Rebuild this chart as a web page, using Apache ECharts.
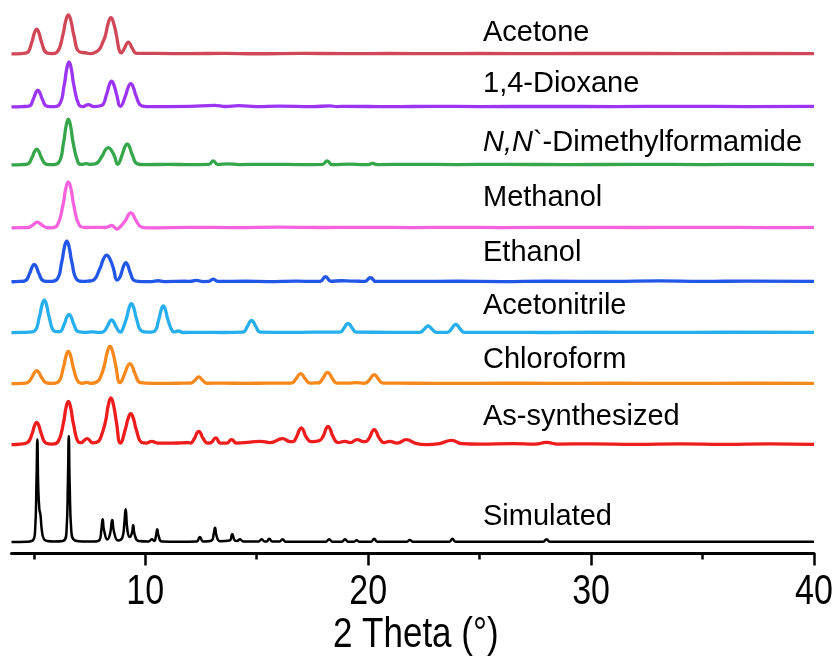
<!DOCTYPE html>
<html>
<head>
<meta charset="utf-8">
<script src="https://cdn.jsdelivr.net/npm/echarts@6/dist/echarts.min.js"></script>
<style>
  html, body { margin: 0; padding: 0; background: #ffffff; }
  #chart { width: 837px; height: 668px; }
</style>
</head>
<body>
<div id="chart"></div>
<script>
// PXRD patterns, [2θ (°), intensity above each trace's own baseline]
const acetone = [[4.0,0],[4.45,0.4],[4.69,1.2],[4.92,12.4],[5.025,20.8],[5.13,24.7],[5.235,20.8],[5.34,12.4],[5.57,1.2],[5.8,0.3],[6.05,2],[6.31,19.5],[6.43,32.8],[6.55,39],[6.67,32.8],[6.79,19.5],[7.05,2],[7.3,1.2],[7.55,0.3],[7.75,1.5],[7.95,5],[8.1,12],[8.21,18.2],[8.335,30.5],[8.46,36.3],[8.585,30.5],[8.71,18.2],[8.83,4],[8.92,1.2],[9.07,5.9],[9.155,9.8],[9.24,11.7],[9.325,9.8],[9.41,5.9],[9.62,0.6],[10.5,0.5],[12,0.3],[13.5,0.6],[15,0.2],[17,0.6],[19,0.3],[21,0.5],[23,0.3],[25,0.5],[28,0.3],[31,0.6],[34,0.3],[37,0.5],[40,0.3]];

const dioxane = [[4.0,0],[4.45,0.3],[4.78,0.8],[4.99,8.4],[5.085,14],[5.18,16.7],[5.275,14],[5.37,8.4],[5.58,0.8],[5.85,0.2],[6.14,2.2],[6.37,22.5],[6.475,37.8],[6.58,45],[6.685,37.8],[6.79,22.5],[7.02,2.2],[7.2,0.3],[7.44,2.3],[7.7,0.3],[8.03,1.3],[8.27,12.8],[8.38,21.6],[8.49,25.7],[8.6,21.6],[8.71,12.8],[8.89,0.5],[9.12,11.6],[9.235,19.6],[9.35,23.3],[9.465,19.6],[9.58,11.6],[9.83,1.1],[10.1,0.2],[12,0.5],[13.1,1.5],[13.6,0.4],[14.2,1.2],[15,0.3],[16,0.8],[17.5,0.3],[18.3,1],[18.6,0.3],[19,0.6],[21,0.2],[23,0.6],[25,0.3],[28,0.5],[31,0.3],[34,0.6],[37,0.3],[40,0.6]];

const dmf = [[4.0,0],[4.45,0.3],[4.71,0.8],[4.93,7.8],[5.03,13.2],[5.13,15.7],[5.23,13.2],[5.33,7.8],[5.55,0.8],[5.8,0.2],[6.11,2.2],[6.34,22.8],[6.445,38.4],[6.55,45.7],[6.655,38.4],[6.76,22.8],[6.99,2.2],[7.15,0.4],[7.35,1.3],[7.55,0.5],[7.75,0.9],[8.06,8.6],[8.2,14.5],[8.34,17.3],[8.48,14.5],[8.62,8.6],[8.76,0.6],[8.97,10.5],[9.08,17.6],[9.19,21],[9.3,17.6],[9.41,10.5],[9.65,1],[9.95,0.2],[11,0.5],[12,0.2],[12.85,0.4],[13.05,4],[13.25,0.3],[13.7,1],[14.2,0.3],[15.5,0.5],[17,0.3],[17.95,0.4],[18.16,4],[18.38,0.3],[19.2,0.8],[19.8,0.3],[20.0,0.3],[20.2,1.5],[20.4,0.3],[22,0.5],[24,0.3],[26,0.5],[29,0.2],[32,0.5],[35,0.3],[38,0.5],[40,0.3]];

const methanol = [[4.0,0],[4.45,0.2],[4.74,0.3],[4.96,2.8],[5.16,5.7],[5.36,2.8],[5.58,0.3],[5.8,0],[6.05,2.3],[6.31,23],[6.43,38.7],[6.55,46],[6.67,38.7],[6.79,23],[7.05,2.3],[7.3,0.3],[7.8,0.5],[8.2,0.3],[8.35,1.2],[8.49,2.3],[8.62,0.5],[8.72,-1.2],[8.85,0.3],[9.12,7.5],[9.235,12.6],[9.35,15],[9.465,12.6],[9.58,7.5],[9.83,0.8],[10.1,0],[12,0.5],[14,0.2],[16,0.6],[18,0.3],[20,0.5],[22,0.2],[24,0.5],[26,0.2],[29,0.5],[32,0.3],[35,0.5],[38,0.2],[40,0.5]];

const ethanol = [[4.0,0],[4.35,0.3],[4.6,0.9],[4.82,8.7],[4.92,14.6],[5.02,17.3],[5.12,14.6],[5.22,8.7],[5.44,0.9],[5.7,0.3],[6.02,2],[6.26,20.4],[6.37,34.2],[6.48,40.7],[6.59,34.2],[6.7,20.4],[6.94,2],[7.2,0.3],[7.4,0.6],[7.64,1.3],[7.97,13.4],[8.12,22.5],[8.27,26.7],[8.42,22.5],[8.57,13.4],[8.74,1.7],[8.85,4],[8.94,9.5],[9.035,16],[9.13,19],[9.225,16],[9.32,9.5],[9.53,1],[9.85,0.2],[10.3,0.2],[10.57,1],[10.85,0.2],[11.8,0.5],[12.0,0.3],[12.3,1.3],[12.6,0.2],[12.85,0.3],[13.05,2.7],[13.25,0.3],[14.5,0.5],[15.5,0.2],[16.8,0.6],[17.6,0.3],[17.85,0.4],[18.09,5],[18.33,0.5],[18.8,1],[19.2,0.7],[19.6,0.5],[19.85,0.3],[20.1,4],[20.35,0.3],[22,0.4],[24,0.5],[26,0.2],[28,0.6],[31,0.3],[33,0.8],[35,0.3],[37,0.7],[40,0.3]];

const acetonitrile = [[4.0,0],[4.5,0.3],[4.8,0.5],[5.03,1.6],[5.26,16.4],[5.365,27.5],[5.47,32.7],[5.575,27.5],[5.68,16.4],[5.91,1.6],[6.05,1],[6.16,1],[6.38,9.2],[6.48,15.4],[6.58,18.3],[6.68,15.4],[6.78,9.2],[7.0,1],[7.3,0.3],[7.6,0.8],[7.9,0.3],[8.09,0.6],[8.3,6.4],[8.395,10.7],[8.49,12.7],[8.585,10.7],[8.68,6.4],[8.89,0.6],[8.95,1.5],[9.16,14.5],[9.27,24.4],[9.38,29],[9.49,24.4],[9.6,14.5],[9.84,1.5],[10.1,0.5],[10.39,1.3],[10.61,13.4],[10.71,22.5],[10.81,26.7],[10.91,22.5],[11.01,13.4],[11.23,1.3],[11.3,0.8],[11.48,1.7],[11.7,0.2],[12.5,0.4],[13.5,0.2],[14.37,0.6],[14.58,6.2],[14.675,10.3],[14.77,12.3],[14.865,10.3],[14.96,6.2],[15.17,0.6],[16.5,0.3],[17.5,0.5],[18.72,0.5],[18.92,4.7],[19.01,7.8],[19.1,9.3],[19.19,7.8],[19.28,4.7],[19.48,0.5],[21,0.4],[22.31,0.3],[22.51,3.4],[22.6,5.6],[22.69,6.7],[22.78,5.6],[22.87,3.4],[23.07,0.3],[23.55,0.4],[23.75,4.2],[23.84,7],[23.93,8.3],[24.02,7],[24.11,4.2],[24.31,0.4],[26,0.4],[28,0.2],[30,0.5],[33,0.3],[36,0.5],[40,0.3]];

const chloroform = [[4.0,0],[4.45,0.3],[4.69,0.7],[4.92,6.5],[5.025,10.9],[5.13,13],[5.235,10.9],[5.34,6.5],[5.57,0.7],[5.82,0.2],[6.09,1.6],[6.33,16.2],[6.44,27.2],[6.55,32.3],[6.66,27.2],[6.77,16.2],[7.01,1.6],[7.2,0.4],[7.35,1.3],[7.55,0.3],[7.84,1.9],[8.0,7],[8.17,18.7],[8.295,31.4],[8.42,37.3],[8.545,31.4],[8.67,18.7],[8.87,1],[9.08,10],[9.195,16.8],[9.31,20],[9.425,16.8],[9.54,10],[9.79,1],[10.3,0.2],[11.5,0.4],[12.04,0.6],[12.23,3.4],[12.4,6.7],[12.57,3.4],[12.76,0.4],[13.5,0.5],[14.5,0.3],[15.5,0.5],[16.55,0.6],[16.77,5],[16.87,8.4],[16.97,10],[17.07,8.4],[17.17,5],[17.39,0.5],[17.6,0.8],[17.76,0.7],[17.98,5.7],[18.08,9.5],[18.18,11.3],[18.28,9.5],[18.38,5.7],[18.6,0.6],[19.1,0.6],[19.48,1],[19.8,0.4],[19.87,0.5],[20.08,4.5],[20.175,7.6],[20.27,9],[20.365,7.6],[20.46,4.5],[20.67,0.5],[22,0.4],[24,0.2],[26,0.5],[28,0.3],[31,0.4],[34,0.2],[37,0.5],[40,0.3]];

const asSynthesized = [[4.0,0],[4.4,0.5],[4.71,2],[4.93,11.2],[5.03,18.8],[5.13,22.3],[5.23,18.8],[5.33,11.2],[5.55,1.5],[5.82,0.5],[6.09,3],[6.33,21.7],[6.44,36.4],[6.55,43.3],[6.66,36.4],[6.77,21.7],[7.01,2.5],[7.12,2],[7.39,6],[7.65,1.7],[7.85,2.5],[8.0,7],[8.22,23.4],[8.34,39.3],[8.46,46.7],[8.58,39.3],[8.7,23.4],[8.89,1.5],[9.11,15.5],[9.23,26],[9.35,31],[9.47,26],[9.59,15.5],[9.85,2],[10.05,1.5],[10.29,3.3],[10.55,1.5],[11.2,1.5],[11.63,1.7],[11.95,2],[12.02,1.5],[12.22,6.7],[12.31,11.2],[12.4,13.3],[12.49,11.2],[12.58,6.7],[12.8,1.5],[12.95,2],[13.16,6.7],[13.38,1.5],[13.65,1.5],[13.87,5],[14.1,1.5],[14.7,2.5],[15.17,3.3],[15.6,2],[16.16,6],[16.5,3],[16.62,3],[16.8,8.4],[16.9,14],[17.0,16.7],[17.1,14],[17.2,8.4],[17.45,3],[17.65,3.3],[17.82,4],[18.0,9.2],[18.1,15.4],[18.2,18.3],[18.3,15.4],[18.4,9.2],[18.65,2],[18.96,3.3],[19.2,2],[19.5,5],[19.8,3],[19.88,3],[20.07,7.5],[20.17,12.6],[20.27,15],[20.37,12.6],[20.47,7.5],[20.72,2],[20.97,3.3],[21.3,1.5],[21.72,5],[22.1,1.5],[22.6,0],[23.2,1],[23.74,4.3],[24.2,1],[25,0.5],[26.5,1],[27.5,0.5],[28,2.3],[28.5,0.5],[30,0.8],[32,0.3],[34,0.8],[36,0.3],[38,0.8],[40,0.3]];

const simulated = [[4.0,0],[4.7,0.3],[4.95,1.5],[5.06,12],[5.12,60],[5.16,102.7],[5.2,55],[5.25,33],[5.3,27],[5.36,12],[5.45,3],[5.6,1],[5.9,0.5],[6.3,1],[6.47,12],[6.53,60],[6.57,106],[6.61,58],[6.68,12],[6.85,1.5],[7.2,0.5],[7.7,0.5],[7.95,2],[8.03,12],[8.09,22.7],[8.15,12],[8.3,2.5],[8.42,8],[8.52,22],[8.6,10],[8.78,1.5],[8.98,5],[9.06,18],[9.12,32.7],[9.2,12],[9.3,5],[9.4,9],[9.46,16.7],[9.52,8],[9.7,1],[10.15,0.5],[10.29,2.7],[10.4,1],[10.48,6],[10.54,12.7],[10.6,6],[10.75,0.5],[11.5,0.2],[12.3,0.5],[12.45,5],[12.6,0.5],[12.98,1.5],[13.07,8],[13.13,14.3],[13.2,6],[13.35,0.8],[13.78,1.5],[13.9,7.7],[14.02,1.5],[14.12,1],[14.25,2.7],[14.4,0.5],[15.08,0.5],[15.22,2.7],[15.36,0.5],[15.45,0.5],[15.56,3.3],[15.7,0.5],[16.02,0.4],[16.16,2.7],[16.3,0.3],[18.1,0.3],[18.25,2.7],[18.4,0.3],[18.82,0.3],[18.96,2.7],[19.1,0.3],[19.36,0.3],[19.48,1.7],[19.6,0.3],[20.13,0.3],[20.27,3.3],[20.41,0.3],[21.74,0.3],[21.87,2],[22.0,0.3],[23.64,0.3],[23.78,3.3],[23.92,0.3],[27.85,0.3],[28.0,2.7],[28.15,0.3],[40,0.3]];

// Trace names (top to bottom), their vertical offsets and colours
const traceNames = ['Acetone', '1,4-Dioxane', 'N,N`-Dimethylformamide', 'Methanol', 'Ethanol', 'Acetonitrile', 'Chloroform', 'As-synthesized', 'Simulated'];
const traceData = [acetone, dioxane, dmf, methanol, ethanol, acetonitrile, chloroform, asSynthesized, simulated];
const traceOffsets = [500, 447, 389, 326, 272, 221, 170, 109, 11.5];
const traceColors = ['#D04858', '#9B35F2', '#36A64B', '#F562DE', '#2156E6', '#27AEEC', '#F7881B', '#EE1C1C', '#000000'];

// Tick values on the 2θ axis
const majorTicks = [10, 20, 30, 40];
const minorTicks = [5, 15, 25, 35];
const axisTitle = '2 Theta (°)';

const labelFont = "'Liberation Sans', Arial, sans-serif";

const chart = echarts.init(document.getElementById('chart'), null, { renderer: 'canvas' });

const series = traceData.map((pts, i) => ({
  name: traceNames[i],
  type: 'line',
  data: pts.map(p => [p[0], p[1] + traceOffsets[i]]),
  smooth: 0.5,
  showSymbol: false,
  symbol: 'none',
  lineStyle: { color: traceColors[i], width: i === 8 ? 2.5 : 3.3 },
  itemStyle: { color: traceColors[i] },
  silent: true,
  z: 2
}));

// Trace names, drawn to the right of the peaks
const labelY = [33, 84, 142.5, 198, 253, 306, 359.5, 416.5, 516.5];
const nameGraphics = traceNames.map((name, i) => {
  const isDmf = i === 2;
  return {
    type: 'text',
    x: 483,
    y: labelY[i],
    silent: true,
    style: {
      text: isDmf ? '{it|N,N}`-Dimethylformamide' : name,
      fontFamily: labelFont,
      fontSize: 29,
      fill: '#000000',
      align: 'left',
      verticalAlign: 'middle',
      rich: isDmf ? { it: { fontStyle: 'italic', fontFamily: labelFont, fontSize: 29, fill: '#000000' } } : undefined
    }
  };
});

chart.setOption({
  animation: false,
  backgroundColor: '#ffffff',
  grid: { left: 11.5, right: 23, top: 0, bottom: 114.5, containLabel: false, outerBoundsMode: 'none' },
  xAxis: [
    {
      type: 'value',
      min: 4,
      max: 40,
      axisLine: { show: true, onZero: false, lineStyle: { color: '#000000', width: 3 } },
      axisTick: { show: true, customValues: majorTicks, length: 12, lineStyle: { color: '#000000', width: 2.5 } },
      axisLabel: { show: false },
      splitLine: { show: false }
    },
    {
      type: 'value',
      min: 4,
      max: 40,
      position: 'bottom',
      axisLine: { show: false, onZero: false },
      axisTick: { show: true, customValues: minorTicks, length: 6, lineStyle: { color: '#000000', width: 2.5 } },
      axisLabel: { show: false },
      splitLine: { show: false }
    }
  ],
  yAxis: { type: 'value', min: 0, max: 554, show: false },
  series: series,
  graphic: nameGraphics
});

// Tick labels and axis title: tall, condensed lettering placed from the axis scale
const tickY = 592;
const titleY = 635;
const tallText = (text, x, y, size) => ({
  type: 'text',
  x: x,
  y: y,
  scaleY: 1.23,
  silent: true,
  style: { text: text, fontFamily: labelFont, fontSize: size, fill: '#000000', align: 'center', verticalAlign: 'middle' }
});
const axisGraphics = majorTicks.map(v => tallText(String(v), chart.convertToPixel({ xAxisIndex: 0 }, v), tickY, 34));
const midX = (chart.convertToPixel({ xAxisIndex: 0 }, 4) + chart.convertToPixel({ xAxisIndex: 0 }, 40)) / 2;
axisGraphics.push(tallText(axisTitle, midX + 3, titleY, 35));

chart.setOption({ graphic: nameGraphics.concat(axisGraphics) }, { replaceMerge: ['graphic'] });
</script>
</body>
</html>
